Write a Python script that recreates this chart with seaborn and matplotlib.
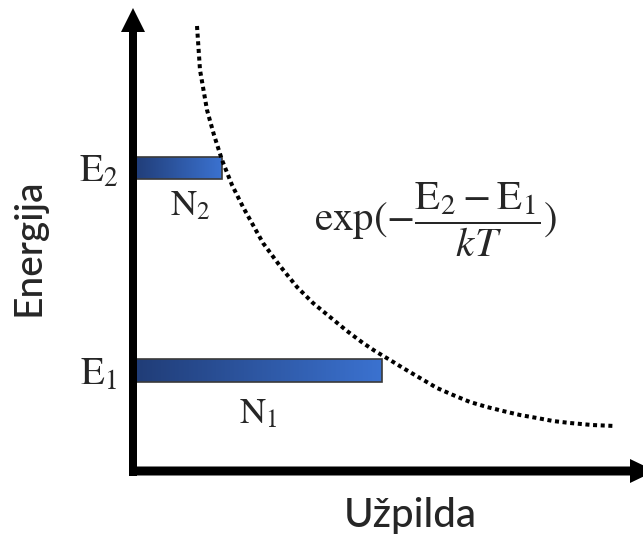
import numpy as np
import matplotlib.pyplot as plt
import seaborn as sns
from matplotlib.colors import LinearSegmentedColormap

# energy levels and their populations (units = pixels from the axis origin)
level_labels = [r'$\mathrm{E}_2$', r'$\mathrm{E}_1$']
pop_labels = [r'$\mathrm{N}_2$', r'$\mathrm{N}_1$']
energy = [303, 100.5]
population = [89, 249]
bar_height = [22, 23]

# dotted Boltzmann curve
curve_n = [64, 67, 74, 81, 89, 99, 110, 130, 147, 164, 180, 197, 214, 230,
           242, 257, 270, 287, 304, 320, 337, 354, 370, 387, 404, 420, 437,
           459, 482]
curve_e = [445, 401, 361, 336, 311, 286, 264, 228, 205, 184, 168, 154, 140,
           128, 120, 111, 103, 93, 83, 76, 69, 64, 60, 56, 53, 50, 48, 46, 45]

sns.set_theme(style='white')
plt.rcParams['mathtext.fontset'] = 'stix'
plt.rcParams['font.family'] = ['Lato', 'DejaVu Sans']

fig = plt.figure(figsize=(6.43, 5.36), dpi=100)
ax = fig.add_axes([0, 0, 1, 1])

# bars with a left-to-right blue gradient
cmap = LinearSegmentedColormap.from_list('lvl', ['#203c76', '#3b72d0'])
grad = np.linspace(0, 1, 256).reshape(1, -1)
bars = ax.barh(energy, population, height=bar_height, left=0, color='none',
               edgecolor='#3a3a3a', linewidth=1.2, zorder=3)
for b in bars:
    x0, y0, w, h = b.get_x(), b.get_y(), b.get_width(), b.get_height()
    ax.imshow(grad, extent=[x0, x0 + w, y0, y0 + h], aspect='auto',
              cmap=cmap, zorder=2)

sns.lineplot(x=curve_n, y=curve_e, sort=False, ax=ax, color='black',
             linewidth=2.9, zorder=3)
ax.lines[-1].set_linestyle((0, (1, 0.9)))

# axes as thick arrows
ax.arrow(0, -5, 0, 468, width=8, head_width=24, head_length=24,
         length_includes_head=True, fc='black', ec='none', zorder=4)
ax.arrow(-4, 0, 526, 0, width=9, head_width=24, head_length=25,
         length_includes_head=True, fc='black', ec='none', zorder=4)

for lab, e in zip(level_labels, energy):
    ax.text(-34, e - 14, lab, ha='center', va='baseline', fontsize=28)
ax.text(57, 256, pop_labels[0], ha='center', va='baseline', fontsize=26)
ax.text(125, 48, pop_labels[1], ha='center', va='baseline', fontsize=26)

ax.text(303, 251, r'$\exp(-\dfrac{\mathrm{E}_2-\mathrm{E}_1}{kT})$',
        ha='center', va='center', fontsize=29.5)

ax.text(277, -45, 'Užpilda', ha='center', va='center', fontsize=29,
        fontweight='medium')
ax.text(-104, 224, 'Energija', ha='center', va='center', fontsize=28,
        fontweight='medium', rotation=90)

ax.set_xlim(-133, 510)
ax.set_ylim(-65, 471)
ax.set_axis_off()

fig.savefig('out.png', dpi=100)
